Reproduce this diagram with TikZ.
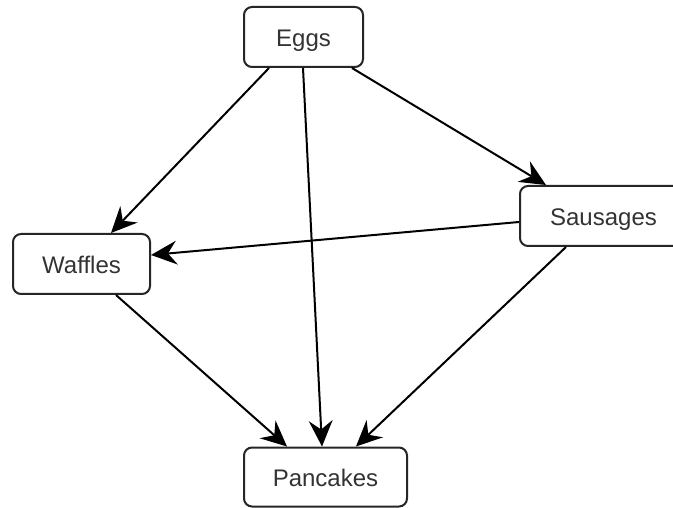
\documentclass[tikz,border=0pt]{standalone}
\usepackage{fontspec}
\setmainfont{Liberation Sans}
\usetikzlibrary{arrows.meta}
\definecolor{txt}{HTML}{333333}
\tikzset{
  box/.style={draw=black!85, line width=2pt, rounded corners=8pt, fill=white,
    minimum height=60pt, inner sep=0pt, text height=19.8pt, text depth=0pt,
    text=txt, font=\fontsize{24}{26}\selectfont},
  tip/.tip={Stealth[length=26pt,width=24pt,inset=9pt,line width=0pt]},
  arr/.style={draw=black, line width=2pt, -tip}
}
\begin{document}
\begin{tikzpicture}[x=1pt,y=-1pt]
\clip (0,0) rectangle (673,508);
\fill[white] (0,0) rectangle (673,508);
\node[box, minimum width=119pt] (eggs) at (303.5,37) {Eggs};
\node[box, minimum width=167pt] (sausages) at (603.5,216) {Sausages};
\node[box, minimum width=137pt] (waffles) at (81.5,264) {Waffles};
\node[box, minimum width=163pt, minimum height=59pt] (pancakes) at (325.5,477) {Pancakes};
\draw[arr] ([xshift=26pt]eggs.south west) -- ([xshift=99pt]waffles.north west);
\draw[arr] ([xshift=60pt]eggs.south west) -- ([xshift=79pt]pancakes.north west);
\draw[arr] ([xshift=109pt]eggs.south west) -- ([xshift=27pt]sausages.north west);
\draw[arr] ([yshift=-6pt]sausages.west) -- ([yshift=9pt]waffles.east);
\draw[arr] ([xshift=47pt]sausages.south west) -- ([xshift=113pt]pancakes.north west);
\draw[arr] ([xshift=104pt]waffles.south west) -- ([xshift=44pt]pancakes.north west);
\end{tikzpicture}
\end{document}
